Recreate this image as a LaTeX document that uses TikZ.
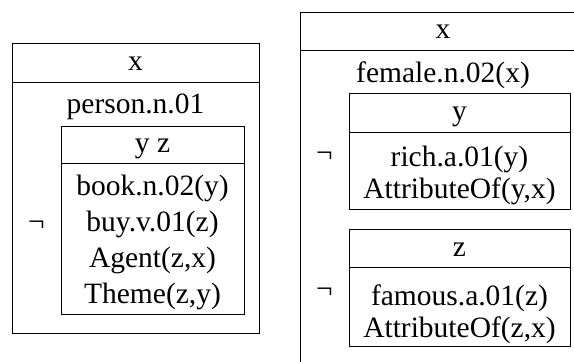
\documentclass[tikz,border=0pt]{standalone}
\usepackage{fontspec}
\setmainfont{Liberation Serif}
\begin{document}
\begin{tikzpicture}[x=0.5pt,y=-0.5pt,
    drs/.style={draw=black, line width=0.5pt},
    txt/.style={anchor=base, inner sep=0pt, font=\fontsize{14.75}{18}\selectfont},
    negsign/.style={anchor=center, inner sep=0pt, font=\fontsize{14.75}{18}\selectfont}]
  \useasboundingbox (0,0) rectangle (574,361);

  % left box
  \draw[drs] (12,43) rectangle (259,333);
  \draw[drs] (12,82)--(259,82);
  \node[txt] (lrefx) at (135.5,70) {x};
  \node[txt] (lperson) at (135.5,113) {person.n.01};
  \node[negsign] (lneg) at (36.5,226) {¬};
  \draw[drs] (61,126) rectangle (244,314);
  \draw[drs] (61,163)--(244,163);
  \node[txt] (lrefyz) at (152.5,152) {y z};
  \node[txt] (lbook) at (152.5,195) {book.n.02(y)};
  \node[txt] (lbuy) at (152.5,231) {buy.v.01(z)};
  \node[txt] (lagent) at (152.5,267) {Agent(z,x)};
  \node[txt] (ltheme) at (152.5,303) {Theme(z,y)};

  % right box
  \draw[drs] (300,12) rectangle (586,366);
  \draw[drs] (300,50)--(586,50);
  \node[txt] (rrefx) at (443,38) {x};
  \node[txt] (rfemale) at (443,82) {female.n.02(x)};

  \node[negsign] (rnegy) at (324.5,157) {¬};
  \draw[drs] (349,93) rectangle (570,209);
  \draw[drs] (349,132)--(570,132);
  \node[txt] (rrefy) at (459.5,120) {y};
  \node[txt] (rrich) at (459.5,166) {rich.a.01(y)};
  \node[txt] (rattry) at (459.5,198) {AttributeOf(y,x)};

  \node[negsign] (rnegz) at (324.5,293) {¬};
  \draw[drs] (349,229) rectangle (570,346);
  \draw[drs] (349,267)--(570,267);
  \node[txt] (rrefz) at (459.5,256) {z};
  \node[txt] (rfamous) at (459.5,305) {famous.a.01(z)};
  \node[txt] (rattrz) at (459.5,337) {AttributeOf(z,x)};
\end{tikzpicture}
\end{document}
